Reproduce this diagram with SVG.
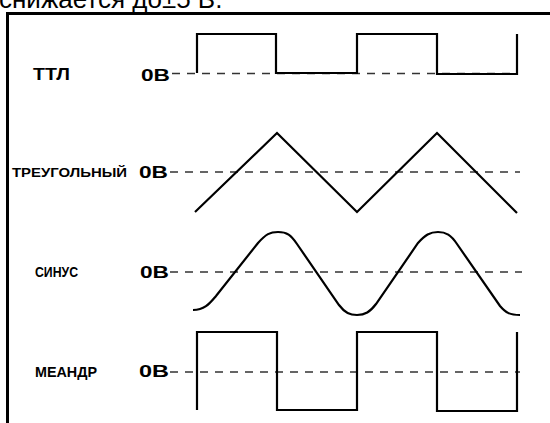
<svg xmlns="http://www.w3.org/2000/svg" width="550" height="423" viewBox="0 0 550 423">
<style>
.lbl{font-family:"Liberation Sans",Arial,sans-serif;font-weight:bold;fill:#000}
.zero{font-family:"Liberation Sans",Arial,sans-serif;font-weight:bold;font-size:17px;fill:#000}
.wave{fill:none;stroke:#000;stroke-width:2.2;stroke-linejoin:miter}
.dash{fill:none;stroke:#333;stroke-width:1.3;stroke-dasharray:8 7}
.frame{fill:none;stroke:#000;stroke-width:3}
</style>
<rect width="550" height="423" fill="#fff"/>
<text x="-1" y="8" font-family="'Liberation Sans',Arial,sans-serif" font-size="26" fill="#000">снижается до±5 В.</text>
<g id="frame">
<path class="frame" d="M7.5,423 V13.5 H550"/>
</g>
<g id="ttl">
<text class="lbl" x="33" y="80" font-size="16" textLength="37" lengthAdjust="spacingAndGlyphs">ТТЛ</text>
<text class="zero" x="141" y="81" textLength="29" lengthAdjust="spacingAndGlyphs">0В</text>
</g>
<g id="triangle">
<text class="lbl" x="12" y="177" font-size="13.5" textLength="115" lengthAdjust="spacingAndGlyphs">ТРЕУГОЛЬНЫЙ</text>
<text class="zero" x="139" y="178" textLength="29" lengthAdjust="spacingAndGlyphs">0В</text>
</g>
<g id="sine">
<text class="lbl" x="35" y="277" font-size="14" textLength="43" lengthAdjust="spacingAndGlyphs">СИНУС</text>
<text class="zero" x="140" y="278" textLength="29" lengthAdjust="spacingAndGlyphs">0В</text>
</g>
<g id="meander">
<text class="lbl" x="35" y="377" font-size="14" textLength="62" lengthAdjust="spacingAndGlyphs">МЕАНДР</text>
<text class="zero" x="139" y="377" textLength="30" lengthAdjust="spacingAndGlyphs">0В</text>
</g>
<g id="connectors">
<path class="dash" d="M172,73.5 H517"/>
<path class="dash" d="M170,172 H520"/>
<path class="dash" d="M170,272 H522"/>
<path class="dash" d="M170,372 H520"/>
<path class="wave" d="M197,73 V34 H276 V73 H357 V34 H437 V74 H517 V34"/>
<path class="wave" d="M195,212 L277,133 L357,212 L437,133 L517,213"/>
<path class="wave" d="M193,310 C205,310 210,303 216,296 L258,243 C266,234 270,232 278,232 C287,232 291,235 297,244 L339,305 C345,313 350,315 357,315 C365,315 370,312 376,304 L418,243 C425,235 430,232 438,232 C446,232 451,235 457,244 L500,306 C506,313 510,315 520,315"/>
<path class="wave" d="M197,410 V332 H277 V410 H357 V332 H437 V411 H517 V332"/>
</g>
</svg>
